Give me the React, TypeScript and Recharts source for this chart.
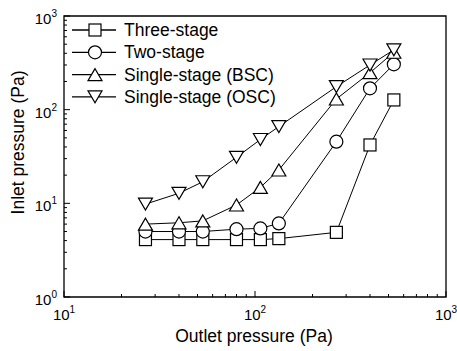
import { ScatterChart, Scatter, XAxis, YAxis, ReferenceArea, Legend } from 'recharts';

// outlet pressure (Pa) for every measured point
const outletPa = [26.7, 40, 53.3, 80, 106.7, 133.3, 266.7, 400, 533.3];

// inlet pressure (Pa) per configuration
const threeStage = [4.1, 4.1, 4.1, 4.1, 4.1, 4.2, 4.9, 42, 127];
const twoStage = [5.0, 5.0, 5.0, 5.3, 5.4, 6.1, 45.5, 169, 305];
const singleBSC = [6.0, 6.2, 6.5, 9.6, 14.8, 22.7, 130, 248, 410];
const singleOSC = [9.8, 12.8, 17.0, 31, 48, 66, 176, 300, 435];

const seriesNames = ['Three-stage', 'Two-stage', 'Single-stage (BSC)', 'Single-stage (OSC)'];
const seriesKinds = ['square', 'circle', 'up', 'down'];

const xTicks = [10, 20, 30, 40, 50, 60, 70, 80, 90, 100, 200, 300, 400, 500, 600, 700, 800, 900, 1000];
const yTicks = [
  1, 2, 3, 4, 5, 6, 7, 8, 9,
  10, 20, 30, 40, 50, 60, 70, 80, 90,
  100, 200, 300, 400, 500, 600, 700, 800, 900, 1000,
];
const xMajor: Record<number, string> = { 10: '1', 100: '2', 1000: '3' };
const yMajor: Record<number, string> = { 1: '0', 10: '1', 100: '2', 1000: '3' };

const FONT = '"Liberation Sans", Arial, Helvetica, sans-serif';

const toPoints = (ys: number[]) => outletPa.map((x, i) => ({ x, y: ys[i] }));
const allSeries = [threeStage, twoStage, singleBSC, singleOSC].map(toPoints);

function marker(kind: string, cx: number, cy: number) {
  const common = { fill: '#fff', stroke: '#000', strokeWidth: 1.2 };
  if (kind === 'square') return <rect x={cx - 6} y={cy - 6} width={12} height={12} {...common} />;
  if (kind === 'circle') return <circle cx={cx} cy={cy} r={6.5} {...common} />;
  if (kind === 'up')
    return <polygon points={`${cx},${cy - 6} ${cx - 7},${cy + 6} ${cx + 7},${cy + 6}`} {...common} />;
  return <polygon points={`${cx - 7},${cy - 6} ${cx + 7},${cy - 6} ${cx},${cy + 6}`} {...common} />;
}

const XTick = (props: any) => {
  const { x, y, payload } = props;
  const exp = xMajor[payload.value];
  const major = exp !== undefined;
  return (
    <g>
      <line x1={x} x2={x} y1={y} y2={y - (major ? 6 : 3)} stroke="#000" strokeWidth={1} />
      {major && (
        <text x={x} y={y + 23} textAnchor="middle" fontSize={15} fontFamily={FONT} fill="#000">
          10<tspan dy={-7} fontSize={10}>{exp}</tspan>
        </text>
      )}
    </g>
  );
};

const YTick = (props: any) => {
  const { x, y, payload } = props;
  const exp = yMajor[payload.value];
  const major = exp !== undefined;
  return (
    <g>
      <line x1={x} x2={x + (major ? 6 : 3)} y1={y} y2={y} stroke="#000" strokeWidth={1} />
      {major && (
        <text x={x - 7} y={y + 8} textAnchor="end" fontSize={15} fontFamily={FONT} fill="#000">
          10<tspan dy={-7} fontSize={10}>{exp}</tspan>
        </text>
      )}
    </g>
  );
};

const renderLegend = () => (
  <svg width={220} height={100} style={{ display: 'block' }}>
    {seriesNames.map((name, i) => {
      const cy = 14 + i * 22.3;
      return (
        <g key={name}>
          <line x1={8} x2={52} y1={cy} y2={cy} stroke="#000" strokeWidth={1.3} />
          {marker(seriesKinds[i], 31, cy)}
          <text x={60} y={cy + 6} fontSize={17.5} fontFamily={FONT} fill="#000">{name}</text>
        </g>
      );
    })}
  </svg>
);

export default function App() {
  return (
    <>
      <style>{'body{margin:0}'}</style>
      <ScatterChart
        width={457}
        height={351}
        margin={{ top: 16, right: 11, bottom: 0, left: 0 }}
        style={{ fontFamily: FONT, background: '#fff' }}
      >
        <XAxis
          dataKey="x"
          type="number"
          scale="log"
          domain={[10, 1000]}
          allowDataOverflow
          ticks={xTicks}
          interval={0}
          tickSize={0}
          tickMargin={0}
          tickLine={false}
          axisLine={false}
          tick={XTick}
          height={54}
          label={{
            content: (p: any) => {
              const vb = p.viewBox;
              return (
                <text x={vb.x + vb.width / 2 - 1} y={vb.y + 45} textAnchor="middle" fontSize={17.5} fontFamily={FONT} fill="#000">
                  Outlet pressure (Pa)
                </text>
              );
            },
          }}
        />
        <YAxis
          dataKey="y"
          type="number"
          scale="log"
          domain={[1, 1000]}
          allowDataOverflow
          ticks={yTicks}
          interval={0}
          tickSize={0}
          tickMargin={0}
          tickLine={false}
          axisLine={false}
          tick={YTick}
          width={64}
          label={{
            content: (p: any) => {
              const vb = p.viewBox;
              const cx = vb.x + 18;
              const cy = vb.y + vb.height / 2 - 14;
              return (
                <text x={cx} y={cy} transform={`rotate(-90 ${cx} ${cy})`} textAnchor="middle" dominantBaseline="central" fontSize={17.5} fontFamily={FONT} fill="#000">
                  Inlet pressure (Pa)
                </text>
              );
            },
          }}
        />
        <ReferenceArea x1={10} x2={1000} y1={1} y2={1000} fill="none" stroke="#000" strokeWidth={1.3} ifOverflow="visible" />
        {allSeries.map((pts, i) => (
          <Scatter
            key={`line-${i}`}
            data={pts}
            line={{ stroke: '#000', strokeWidth: 1 }}
            lineType="joint"
            shape={() => <g />}
            legendType="none"
            isAnimationActive={false}
          />
        ))}
        {allSeries.map((pts, i) => (
          <Scatter
            key={`mark-${i}`}
            name={seriesNames[i]}
            data={pts}
            shape={(p: any) => marker(seriesKinds[i], p.cx, p.cy)}
            isAnimationActive={false}
          />
        ))}
        <Legend
          layout="horizontal"
          verticalAlign="middle"
          align="center"
          wrapperStyle={{ left: 64, top: 16, width: 220, height: 100 }}
          content={renderLegend}
        />
      </ScatterChart>
    </>
  );
}
